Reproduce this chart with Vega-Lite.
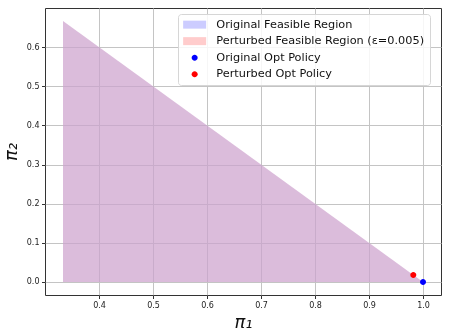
{
  "$schema": "https://vega.github.io/schema/vega-lite/v6.json",
  "width": 396,
  "height": 287,
  "autosize": {"type": "none"},
  "padding": {"left": 45, "top": 8, "right": 8, "bottom": 41},
  "background": "white",
  "config": {
    "view": {"stroke": "#333333", "strokeWidth": 1},
    "font": "DejaVu Sans",
    "axis": {
      "domain": false,
      "grid": true,
      "gridColor": "#c4c4c4",
      "gridWidth": 1,
      "tickColor": "#333333",
      "tickSize": 3.5,
      "labelFont": "DejaVu Sans",
      "labelFontSize": 8,
      "labelColor": "#222222",
      "labelPadding": 2.5,
      "titleFont": "DejaVu Sans",
      "titleFontStyle": "italic",
      "titleFontWeight": "normal",
      "titleFontSize": 18,
      "titleColor": "#111111",
      "zindex": 1
    },
    "legend": {
      "padding": 5,
      "rowPadding": 4.5,
      "fillColor": "rgba(255,255,255,0.85)",
      "strokeColor": "#d6d6d6",
      "cornerRadius": 3,
      "labelFont": "DejaVu Sans",
      "labelFontSize": 11.3,
      "labelColor": "#111111",
      "labelLimit": 400,
      "symbolOffset": 6,
      "labelOffset": 16,
      "symbolSize": 100,
      "symbolStrokeWidth": 0,
      "symbolOpacity": 1
    }
  },
  "datasets": {
    "regions": [
      {"series": "Original Feasible Region", "x": 0.3333, "y": 0.6667},
      {"series": "Original Feasible Region", "x": 1.0, "y": 0.0},
      {"series": "Perturbed Feasible Region (ε=0.005)", "x": 0.3333, "y": 0.6667},
      {"series": "Perturbed Feasible Region (ε=0.005)", "x": 1.0, "y": 0.0}
    ],
    "points": [
      {"series": "Original Opt Policy", "x": 1.0, "y": 0.0},
      {"series": "Perturbed Opt Policy", "x": 0.982, "y": 0.018}
    ]
  },
  "encoding": {
    "x": {
      "field": "x", "type": "quantitative",
      "scale": {"domain": [0.3, 1.0333], "nice": false, "zero": false},
      "axis": {"values": [0.4, 0.5, 0.6, 0.7, 0.8, 0.9, 1.0], "format": ".1f", "title": "π₁", "titlePadding": 4}
    },
    "y": {
      "field": "y", "type": "quantitative",
      "scale": {"domain": [-0.0333, 0.7], "nice": false, "zero": false},
      "axis": {"values": [0.0, 0.1, 0.2, 0.3, 0.4, 0.5, 0.6], "format": ".1f", "title": "π₂", "titlePadding": 6}
    },
    "color": {
      "field": "series", "type": "nominal",
      "scale": {
        "domain": ["Original Feasible Region", "Perturbed Feasible Region (ε=0.005)", "Original Opt Policy", "Perturbed Opt Policy"],
        "range": ["#ccccff", "#ffcccc", "#0000ff", "#ff0000"]
      },
      "legend": {"title": null, "orient": "none", "legendX": 133, "legendY": 6}
    }
  },
  "layer": [
    {
      "data": {"name": "regions"},
      "transform": [{"filter": "datum.series == 'Original Feasible Region'"}],
      "mark": {"type": "area", "fillOpacity": 0.7},
      "encoding": {
        "y2": {"datum": 0}
      }
    },
    {
      "data": {"name": "regions"},
      "transform": [{"filter": "datum.series != 'Original Feasible Region'"}],
      "mark": {"type": "area", "fillOpacity": 0.7, "blend": "multiply"},
      "encoding": {
        "y2": {"datum": 0}
      }
    },
    {
      "data": {"name": "points"},
      "mark": {"type": "point", "filled": true, "opacity": 1, "size": 100},
      "encoding": {
        "shape": {
          "field": "series", "type": "nominal",
          "scale": {
            "domain": ["Original Feasible Region", "Perturbed Feasible Region (ε=0.005)", "Original Opt Policy", "Perturbed Opt Policy"],
            "range": ["M-2.3,-0.8H2.3V0.8H-2.3Z", "M-2.3,-0.8H2.3V0.8H-2.3Z", "M-0.6,0A0.6,0.6 0 1,0 0.6,0A0.6,0.6 0 1,0 -0.6,0Z", "M-0.6,0A0.6,0.6 0 1,0 0.6,0A0.6,0.6 0 1,0 -0.6,0Z"]
          },
          "legend": {"title": null, "orient": "none", "legendX": 133, "legendY": 6}
        }
      }
    }
  ]
}
